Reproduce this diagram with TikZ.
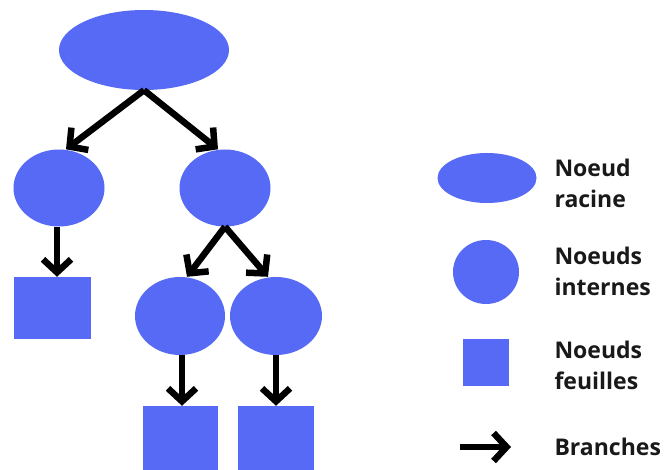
\documentclass[tikz,border=0pt]{standalone}
\usepackage{fontspec}
\setmainfont{Open Sans}
\usetikzlibrary{shapes.geometric,arrows.meta}
\definecolor{bleu}{RGB}{86,106,245}

\begin{document}
\begin{tikzpicture}[x=1pt,y=-1pt,
    noeud/.style={ellipse,fill=bleu,inner sep=0pt},
    feuille/.style={rectangle,fill=bleu,inner sep=0pt},
    branche/.style={-{Straight Barb[length=13pt,width=28pt,line width=6.5pt]},line width=6.5pt,black},
    legende/.style={anchor=west,align=left,font=\fontsize{23}{31}\selectfont\bfseries,text=black!90}]

    \useasboundingbox[fill=white] (0,0) rectangle (667,470);

% arbre
\node[noeud,minimum width=170pt,minimum height=80pt] (racine) at (144,50) {};
\node[noeud,minimum width=91pt,minimum height=77pt] (ga) at (59,188) {};
\node[noeud,minimum width=91pt,minimum height=77pt] (dr) at (225,188) {};
\node[feuille,minimum width=77pt,minimum height=62pt] (fga) at (52,308) {};
\node[noeud,minimum width=90pt,minimum height=78pt] (dga) at (180,316) {};
\node[noeud,minimum width=92pt,minimum height=78pt] (ddr) at (276,316) {};
\node[feuille,minimum width=75pt,minimum height=66pt] (fdga) at (180,439) {};
\node[feuille,minimum width=76pt,minimum height=66pt] (fddr) at (276,439) {};

\draw[branche] (racine.south) -- ([xshift=7pt]ga.north);
\draw[branche] (racine.south) -- ([xshift=-7pt]dr.north);
\draw[branche] ([xshift=-2pt]ga.south) -- ([xshift=-2pt]ga.south |- fga.north);
\draw[branche] (dr.south) -- ([xshift=7pt]dga.north);
\draw[branche] (dr.south) -- ([xshift=-8pt]ddr.north);
\draw[branche] ([xshift=2pt]dga.south) -- ([xshift=2pt]dga.south |- fdga.north);
\draw[branche] (ddr.south) -- (ddr.south |- fddr.north);

% legende
\node[noeud,minimum width=99pt,minimum height=50pt] (lracine) at (487,178) {};
\node[noeud,minimum width=66pt,minimum height=64pt] (linterne) at (486,272) {};
\node[feuille,minimum width=46pt,minimum height=47pt] (lfeuille) at (486,363) {};
\coordinate (bdeb) at (460,447);
\coordinate (bfin) at (511,447);
\draw[branche] (bdeb) -- (bfin);

\node[legende] (tracine) at (551,183) {Noeud\\ racine};
\node[legende] (tinterne) at (551,271) {Noeuds\\internes};
\node[legende] (tfeuille) at (551,365) {Noeuds\\feuilles};
\node[legende] (tbranche) at (551,447) {Branches};

\end{tikzpicture}
\end{document}
